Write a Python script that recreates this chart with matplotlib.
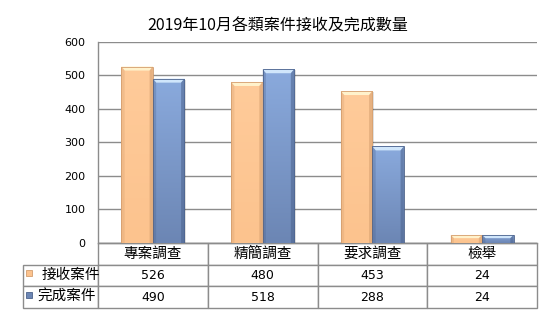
import numpy as np
import matplotlib.pyplot as plt
from matplotlib.patches import Rectangle, Polygon
from matplotlib.colors import to_rgb

# 中文字型
plt.rcParams['font.family'] = ['Noto Sans CJK TC', 'DejaVu Sans']

title = '2019年10月各類案件接收及完成數量'
categories = ['專案調查', '精簡調查', '要求調查', '檢舉']
series_names = ['接收案件', '完成案件']
received = [526, 480, 453, 24]
completed = [490, 518, 288, 24]
y_ticks = [0, 100, 200, 300, 400, 500, 600]

W, H = 555, 327
fig = plt.figure(figsize=(W / 100, H / 100), dpi=100)
ax = fig.add_axes([98 / W, 1 - 243 / H, 439 / W, 201.3 / H])

# 各系列顏色: 上色, 下色, 亮邊, 暗邊
styles = [
    dict(top='#ffcb9a', bottom='#fcc38e', light='#fff2cc', dark='#d49e6e'),
    dict(top='#8aaadd', bottom='#6c86b4', light='#d0e6fb', dark='#4b628c'),
]

bar_w = 0.287
gray = '#8c8c8c'


def draw_bar(x0, w, h, st):
    grad = np.linspace(0, 1, 60)[:, None, None]
    img = np.array(to_rgb(st['top'])) * (1 - grad) + np.array(to_rgb(st['bottom'])) * grad
    rect = Rectangle((x0, 0), w, h, facecolor='none', edgecolor=st['dark'], lw=0.6, zorder=5)
    im = ax.imshow(img, extent=(x0, x0 + w, 0, h), aspect='auto', zorder=3,
                   interpolation='bilinear')
    ax.add_patch(rect)
    im.set_clip_path(rect)
    # 斜角效果
    bx = 0.03
    by = min(12.0, h * 0.4)
    ax.add_patch(Polygon([(x0, h), (x0 + w, h), (x0 + w - bx, h - by), (x0 + bx, h - by)],
                         closed=True, facecolor=st['light'], edgecolor='none', zorder=4))
    ax.add_patch(Polygon([(x0, 0), (x0, h), (x0 + bx, h - by), (x0 + bx, 0)],
                         closed=True, facecolor=st['dark'], alpha=0.3, edgecolor='none', zorder=4))
    ax.add_patch(Polygon([(x0 + w, 0), (x0 + w, h), (x0 + w - bx, h - by), (x0 + w - bx, 0)],
                         closed=True, facecolor=st['dark'], alpha=0.55, edgecolor='none', zorder=4))
    # 淡陰影
    ax.add_patch(Rectangle((x0 + 0.014, 0), w, h - 3, facecolor='#000000', alpha=0.12,
                           edgecolor='none', zorder=2))


for i in range(len(categories)):
    c = i + 0.5
    draw_bar(c - bar_w, bar_w, received[i], styles[0])
    draw_bar(c, bar_w, completed[i], styles[1])

ax.set_xlim(0, len(categories))
ax.set_ylim(0, 600)
ax.set_yticks(y_ticks)
ax.set_yticklabels([str(v) for v in y_ticks], fontsize=8, family='DejaVu Sans')
ax.set_xticks([])
ax.tick_params(axis='y', length=0, pad=9)
ax.yaxis.grid(True, color=gray, lw=1)
ax.set_axisbelow(True)
for s in ['top', 'right']:
    ax.spines[s].set_visible(False)
for s in ['left', 'bottom']:
    ax.spines[s].set_color(gray)
    ax.spines[s].set_linewidth(1)

# 資料表 (第一欄放列標題)
cell_text = [[''] + [str(v) for v in received], [''] + [str(v) for v in completed]]
lw_frac = 75 / 439
tbl = ax.table(cellText=cell_text, colLabels=[''] + categories,
               cellLoc='center', colWidths=[lw_frac] + [0.25] * 4,
               bbox=[-lw_frac, -65 / 201.3, 1 + lw_frac, 65 / 201.3])
tbl.auto_set_font_size(False)
for (r, col), cell in tbl.get_celld().items():
    cell.set_edgecolor(gray)
    cell.set_linewidth(1)
    if r == 0:
        cell.get_text().set_fontsize(10.5)
        if col == 0:
            cell.visible_edges = ''
    else:
        cell.get_text().set_fontsize(9)
        cell.get_text().set_family('DejaVu Sans')

# 列標題與圖例方塊
label_x = [42, 37]
row_y = [275, 297]
for k, name in enumerate(series_names):
    fig.text(label_x[k] / W, 1 - row_y[k] / H, name, ha='left', va='center', fontsize=10.5)
    st = styles[k]
    fig.patches.append(Rectangle((26 / W, 1 - (row_y[k] + 1) / H), 6 / W, 6 / H,
                                 transform=fig.transFigure, facecolor=st['bottom'],
                                 edgecolor=st['dark'], lw=0.6))

fig.text(0.5, 1 - 26 / H, title, ha='center', va='center', fontsize=11.5)

fig.savefig('out.png', dpi=100)
